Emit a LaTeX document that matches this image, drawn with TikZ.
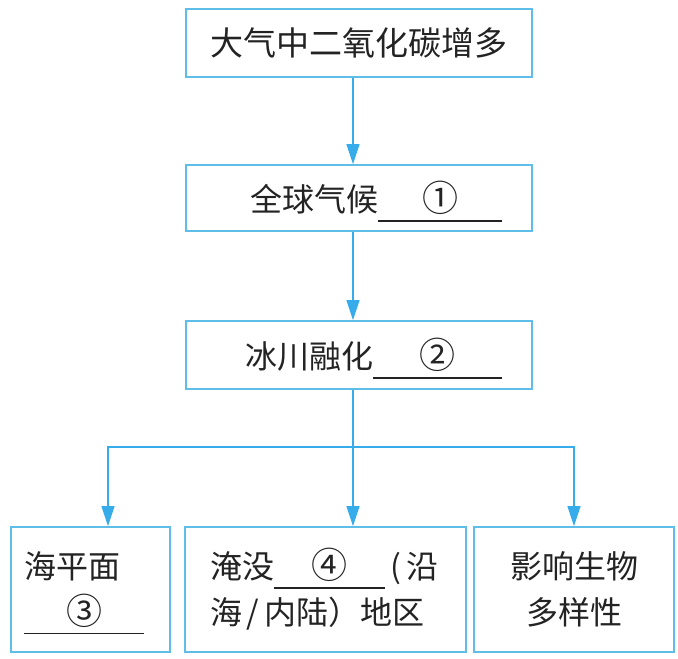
\documentclass[tikz,border=0pt]{standalone}
\usepackage{fontspec}
\newfontfamily\cjk{Noto Sans CJK SC}
\usetikzlibrary{arrows.meta}
\definecolor{boxcol}{RGB}{95,190,232}
\definecolor{arrowcol}{RGB}{55,172,235}
\definecolor{inkcol}{RGB}{35,35,35}
% answer blank: number over a rule
\newcommand{\blank}[2]{\leavevmode\rlap{\smash{\rule[-10pt]{#1}{1.5pt}}}%
  \makebox[#1]{\fontsize{36}{46}\selectfont #2}}

\begin{document}
\begin{tikzpicture}[
    x=1pt, y=-1pt,
    box/.style={draw=boxcol, line width=1.6pt, text=inkcol, inner ysep=0pt,
      font=\cjk\fontsize{32}{46}\selectfont},
    flow/.style={-{Triangle[width=13pt,length=20pt]}, color=arrowcol, line width=1.3pt},
    link/.style={-, color=arrowcol, line width=1.3pt}
  ]
  \useasboundingbox (0,0) rectangle (678,659);

  % chain of causes
  \node[box, minimum width=346pt, minimum height=68pt,
    font=\cjk\fontsize{33}{46}\selectfont] (top) at (359,43) {大气中二氧化碳增多};
  \node[box, minimum width=346pt, minimum height=66pt, text width=286pt,
    inner xsep=30pt, align=right] (climate) at (359,198) {全球气候\blank{124pt}{①}};
  \node[box, minimum width=346pt, minimum height=68pt, text width=286pt,
    inner xsep=30pt, align=right] (glacier) at (359,355) {冰川融化\blank{129pt}{②}};

  % consequences
  \node[box, minimum width=159pt, minimum height=125pt, text width=133pt,
    inner xsep=13pt, align=left] (sea) at (90.5,589.5) {海平面\\\blank{120pt}{③}};
  \node[box, minimum width=281pt, minimum height=125pt, text width=231pt,
    inner xsep=25pt, align=left] (flood) at (325.5,589.5)
    {淹没\blank{111pt}{④}\,(\,沿\\海\hspace{5pt}/\hspace{5pt}内陆）地区};
  \node[box, minimum width=200pt, minimum height=125pt, align=center]
    (bio) at (574,589.5) {影响生物\\多样性};

  % connectors
  \coordinate (fork) at (353,447);
  \coordinate (forkL) at (108,447);
  \coordinate (forkR) at (574,447);
  \draw[flow] (top.south -| fork) -- (climate.north -| fork);
  \draw[flow] (climate.south -| fork) -- (glacier.north -| fork);
  \draw[link] (glacier.south -| fork) -- (fork);
  \draw[flow] (fork) -- (forkL) -- (sea.north -| forkL);
  \draw[flow] (fork) -- (flood.north -| fork);
  \draw[flow] (fork) -- (forkR) -- (bio.north -| forkR);
\end{tikzpicture}
\end{document}
